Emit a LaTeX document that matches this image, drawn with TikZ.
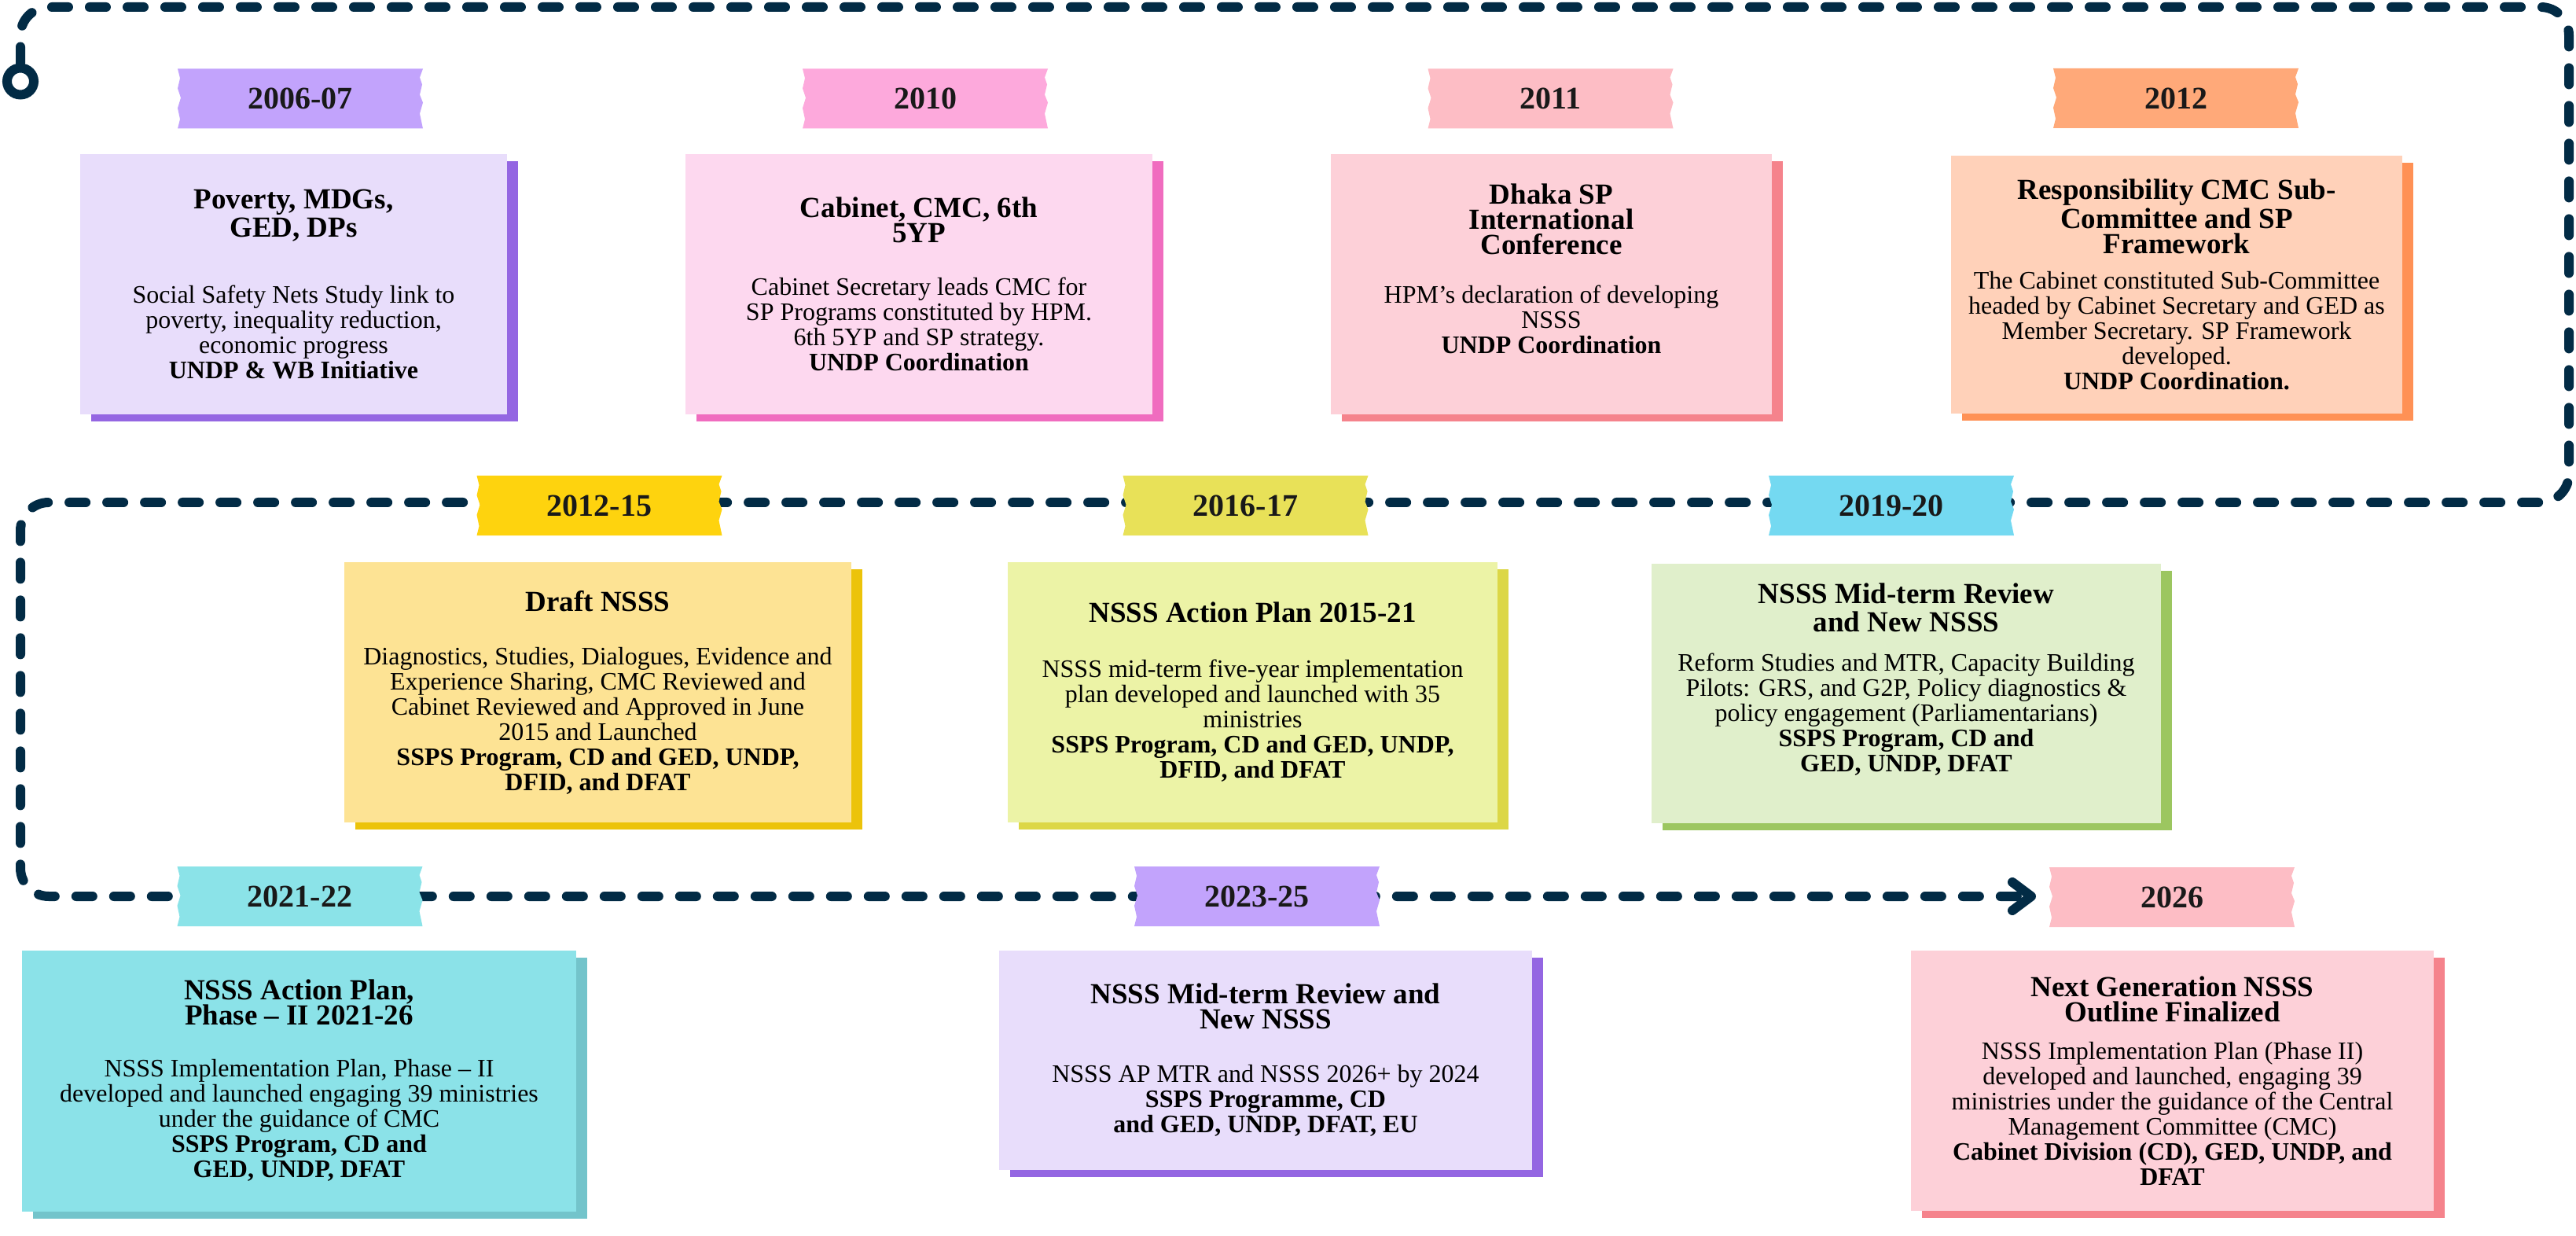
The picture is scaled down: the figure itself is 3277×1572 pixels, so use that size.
\documentclass[tikz,border=0pt]{standalone}
\usepackage{fontspec}
\setmainfont{Liberation Serif}
\usepackage{tikz}
\usetikzlibrary{calc,shadows,arrows.meta}

\definecolor{navy}{HTML}{022B45}
\definecolor{tapelilac}{HTML}{C2A3FC}
\definecolor{boxlilac}{HTML}{E8DDFB}
\definecolor{shadelilac}{HTML}{9466E2}
\definecolor{tapepink}{HTML}{FDA9DC}
\definecolor{boxpink}{HTML}{FDD8EF}
\definecolor{shadepink}{HTML}{F06CBF}
\definecolor{taperose}{HTML}{FDBDC5}
\definecolor{boxrose}{HTML}{FDD0D8}
\definecolor{shaderose}{HTML}{F5838C}
\definecolor{tapepeach}{HTML}{FFA979}
\definecolor{boxpeach}{HTML}{FFD1B9}
\definecolor{shadepeach}{HTML}{FF9155}
\definecolor{tapegold}{HTML}{FED30E}
\definecolor{boxgold}{HTML}{FDE394}
\definecolor{shadegold}{HTML}{ECC30A}
\definecolor{tapelime}{HTML}{E8E158}
\definecolor{boxlime}{HTML}{ECF3A6}
\definecolor{shadelime}{HTML}{DCD746}
\definecolor{tapesky}{HTML}{74D9F1}
\definecolor{boxsage}{HTML}{E0EFCB}
\definecolor{shadesage}{HTML}{9CC660}
\definecolor{tapeaqua}{HTML}{8BE3E8}
\definecolor{boxaqua}{HTML}{8BE2E8}
\definecolor{shadeaqua}{HTML}{73C4CB}

\newcommand{\ttl}[1]{{\fontsize{9.25}{9}\selectfont\bfseries #1}}

% torn tape with the year on it
\newcommand{\tape}[4]{%
  \fill[#3] ($(#2)+(-156,-38)$) -- ++(312,0)
     -- ++(-4,11) -- ++(3,9) -- ++(-3,13) -- ++(4,10) -- ++(-4,14) -- ++(4,19)
     -- ++(-312,0)
     -- ++(3,-12) -- ++(-3,-14) -- ++(4,-13) -- ++(-4,-12) -- ++(3,-13) -- ++(-3,-12) -- cycle;
  \node[yearlabel] (#1) at (#2) {#4};
}

\tikzset{
  timeline/.style={draw=navy, line width=3pt, dash pattern=on 5.25pt off 6.75pt,
    line cap=round, rounded corners=9pt},
  yearlabel/.style={font=\fontsize{10}{10}\selectfont\bfseries, text=black!90,
    minimum width=78pt, minimum height=19pt, inner sep=0pt},
  note/.style 2 args={fill=#1, general shadow={fill=#2, shadow xshift=3.5pt, shadow yshift=-2.25pt},
    align=center, font=\fontsize{8}{8}\selectfont, text=black, inner sep=0pt},
}

\begin{document}
\begin{tikzpicture}[x=0.25pt,y=-0.25pt]
\useasboundingbox (0,0) rectangle (3277,1572);

% the dashed track
\node[draw=navy, circle, line width=3pt, minimum size=8.5pt, inner sep=0pt] (start) at (26,103.5) {};
\coordinate (tip) at (2590,1140);
\draw[timeline, -{Straight Barb[length=6pt, width=9pt, round]}]
  (start.north) -- (26,9) -- (3268,9) -- (3268,639) -- (26,639) -- (26,1140) -- (tip);

% year tapes
\tape{y0607}{382,125.5}{tapelilac}{2006-07}
\tape{y2010}{1177,125.5}{tapepink}{2010}
\tape{y2011}{1972.5,125.5}{taperose}{2011}
\tape{y2012}{2768,125}{tapepeach}{2012}
\tape{y1215}{762.5,643}{tapegold}{2012-15}
\tape{y1617}{1584.5,643}{tapelime}{2016-17}
\tape{y1920}{2406,643}{tapesky}{2019-20}
\tape{y2122}{381.5,1140}{tapeaqua}{2021-22}
\tape{y2325}{1599,1140}{tapelilac}{2023-25}
\tape{y2026}{2763,1141}{taperose}{2026}

% notes
\node[note={boxlilac}{shadelilac}, minimum width=135.75pt, minimum height=82.75pt] (b0607) at (373.5,361.5)
  {\ttl{Poverty, MDGs,}\\ \ttl{GED, DPs}\\[13pt]
   Social Safety Nets Study link to\\ poverty, inequality reduction,\\ economic progress\\
   \textbf{UNDP \& WB Initiative}};

\node[note={boxpink}{shadepink}, minimum width=148.5pt, minimum height=82.75pt] (b2010) at (1169,361.5)
  {\ttl{Cabinet, CMC, 6th}\\ \ttl{5YP}\\[8.75pt]
   Cabinet Secretary leads CMC for\\ SP Programs constituted by HPM.\\ 6th 5YP and SP strategy.\\
   \textbf{UNDP Coordination}};

\node[note={boxrose}{shaderose}, minimum width=140.25pt, minimum height=82.75pt] (b2011) at (1973.5,361.5)
  {\ttl{Dhaka SP}\\ \ttl{International}\\ \ttl{Conference}\\[7.5pt]
   HPM’s declaration of developing\\ NSSS\\
   \textbf{UNDP Coordination}\\[2pt]\mbox{}};

\node[note={boxpeach}{shadepeach}, minimum width=143.5pt, minimum height=82pt] (b2012) at (2769,362)
  {\ttl{Responsibility CMC Sub-}\\ \ttl{Committee and SP}\\ \ttl{Framework}\\[3.25pt]
   The Cabinet constituted Sub-Committee\\ headed by Cabinet Secretary and GED as\\
   Member Secretary. SP Framework\\ developed.\\
   \textbf{UNDP Coordination.}};

\node[note={boxgold}{shadegold}, minimum width=161.25pt, minimum height=82.75pt] (b1215) at (760.5,880.5)
  {\ttl{Draft NSSS}\\[9pt]
   Diagnostics, Studies, Dialogues, Evidence and\\ Experience Sharing, CMC Reviewed and\\
   Cabinet Reviewed and Approved in June\\ 2015 and Launched\\
   \textbf{SSPS Program, CD and GED, UNDP,}\\ \textbf{DFID, and DFAT}};

\node[note={boxlime}{shadelime}, minimum width=155.75pt, minimum height=82.75pt] (b1617) at (1593.5,880.5)
  {\ttl{NSSS Action Plan 2015-21}\\[9.5pt]
   NSSS mid-term five-year implementation\\ plan developed and launched with 35\\ ministries\\
   \textbf{SSPS Program, CD and GED, UNDP,}\\ \textbf{DFID, and DFAT}};

\node[note={boxsage}{shadesage}, minimum width=162pt, minimum height=82.5pt] (b1920) at (2425,882)
  {\ttl{NSSS Mid-term Review}\\[1pt] \ttl{and New NSSS}\\[4.5pt]
   Reform Studies and MTR, Capacity Building\\ Pilots: GRS, and G2P, Policy diagnostics \&\\
   policy engagement (Parliamentarians)\\
   \textbf{SSPS Program, CD and}\\ \textbf{GED, UNDP, DFAT}\\[2pt]\mbox{}};

\node[note={boxaqua}{shadeaqua}, minimum width=176.25pt, minimum height=83pt] (b2122) at (380.5,1375)
  {\mbox{}\\[-2pt]\ttl{NSSS Action Plan,}\\ \ttl{Phase – II 2021-26}\\[8.5pt]
   NSSS Implementation Plan, Phase – II\\ developed and launched engaging 39 ministries\\
   under the guidance of CMC\\
   \textbf{SSPS Program, CD and}\\ \textbf{GED, UNDP, DFAT}};

\node[note={boxlilac}{shadelilac}, minimum width=169.5pt, minimum height=69.75pt] (b2325) at (1610,1348.5)
  {\ttl{NSSS Mid-term Review and}\\ \ttl{New NSSS}\\[9pt]
   NSSS AP MTR and NSSS 2026+ by 2024\\
   \textbf{SSPS Programme, CD}\\ \textbf{and GED, UNDP, DFAT, EU}};

\node[note={boxrose}{shaderose}, minimum width=166.25pt, minimum height=82.75pt] (b2026) at (2763.5,1374.5)
  {\ttl{Next Generation NSSS}\\ \ttl{Outline Finalized}\\[4pt]
   NSSS Implementation Plan (Phase II)\\ developed and launched, engaging 39\\
   ministries under the guidance of the Central\\ Management Committee (CMC)\\
   \textbf{Cabinet Division (CD), GED, UNDP, and}\\ \textbf{DFAT}};

\end{tikzpicture}
\end{document}
